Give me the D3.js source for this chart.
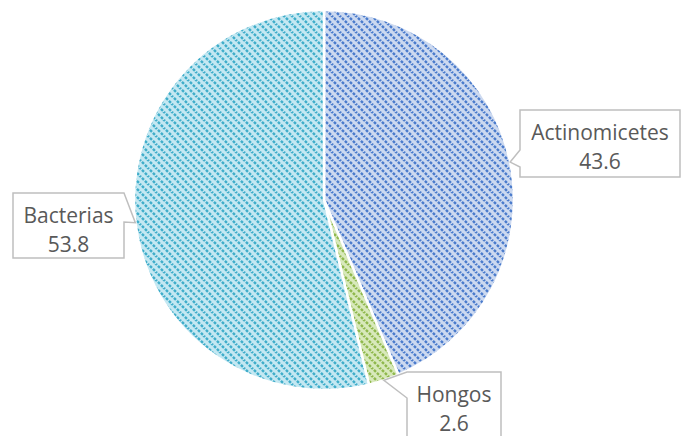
<!DOCTYPE html>
<html>
<head>
<meta charset="utf-8">
<script src="https://cdn.jsdelivr.net/npm/d3@7"></script>
<style>
  html, body { margin: 0; padding: 0; background: #fff; }
  svg { display: block; }
</style>
</head>
<body>
<script>
// Composición microbiana (%)
const categories = ["Actinomicetes", "Hongos", "Bacterias"];
const values = [43.6, 2.6, 53.8];
const labels = ["43.6", "2.6", "53.8"];
const baseColors = ["#ccd9f0", "#d8e9bb", "#c4e8f2"];
const stripeColors = ["#4a7bcc", "#8fb84c", "#3fadca"];

const W = 689, H = 436;
const cx = 324, cy = 200, R = 190;

const svg = d3.select("body").append("svg")
  .attr("width", W).attr("height", H);

// Hatched fills, one per slice
const defs = svg.append("defs");
categories.forEach((c, i) => {
  const p = defs.append("pattern")
    .attr("id", "hatch" + i)
    .attr("patternUnits", "userSpaceOnUse")
    .attr("width", 8).attr("height", 8);
  p.append("rect").attr("width", 8).attr("height", 8).attr("fill", baseColors[i]);
  p.append("path")
    .attr("d", "M-1,-1 L9,9 M-9,-1 L1,9 M7,-1 L17,9")
    .attr("stroke", stripeColors[i])
    .attr("stroke-width", 2.4)
    .attr("stroke-dasharray", "2.8,1.4")
    .attr("fill", "none");
});

const pie = d3.pie().sort(null).value(d => d)(values);
const arc = d3.arc().innerRadius(0).outerRadius(R);

const g = svg.append("g").attr("transform", `translate(${cx},${cy})`);
g.selectAll("path.slice")
  .data(pie)
  .join("path")
  .attr("class", "slice")
  .attr("d", arc)
  .attr("fill", (d, i) => `url(#hatch${i})`)
  .attr("stroke", "#ffffff")
  .attr("stroke-width", 2.5)
  .attr("stroke-linejoin", "round");

// Callout boxes with a wedge pointing at each slice
const boxes = [
  { x: 520, y: 110, w: 160, h: 67, side: "left",  a: 150, b: 167 },
  { x: 407, y: 372, w: 94,  h: 70, side: "left",  a: 372, b: 398 },
  { x: 13,  y: 193, w: 111, h: 65, side: "right", a: 193, b: 222 }
];

const outerPt = d => {
  const a = (d.startAngle + d.endAngle) / 2;
  return [cx + R * Math.sin(a), cy - R * Math.cos(a)];
};

pie.forEach((d, i) => {
  const b = boxes[i];
  const [tx, ty] = outerPt(d);
  let pts;
  if (b.side === "left") {
    pts = [[b.x, b.y], [b.x + b.w, b.y], [b.x + b.w, b.y + b.h], [b.x, b.y + b.h],
           [b.x, b.b], [tx, ty], [b.x, b.a]];
  } else {
    const r = b.x + b.w;
    pts = [[b.x, b.y], [r, b.y], [r, b.a], [tx, ty], [r, b.b], [r, b.y + b.h], [b.x, b.y + b.h]];
  }
  svg.append("path")
    .attr("d", d3.line()(pts) + "Z")
    .attr("fill", "#ffffff")
    .attr("stroke", "#bfbfbf")
    .attr("stroke-width", 1.5);

  const txt = svg.append("text")
    .attr("text-anchor", "middle")
    .attr("font-family", "'Open Sans', sans-serif")
    .attr("font-size", 21)
    .attr("fill", "#595959");
  txt.append("tspan").attr("x", b.x + b.w / 2).attr("y", b.y + 30).text(categories[i]);
  txt.append("tspan").attr("x", b.x + b.w / 2).attr("y", b.y + 59).text(labels[i]);
});
</script>
</body>
</html>
